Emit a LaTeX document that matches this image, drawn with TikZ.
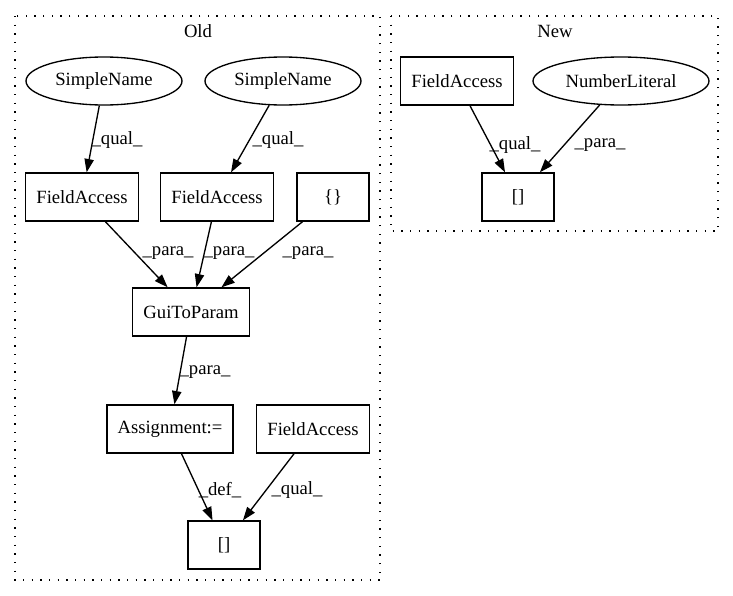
\documentclass[tikz,border=0pt]{standalone}
\usepackage{fontspec}
\setmainfont{Liberation Serif}
\usetikzlibrary{arrows.meta,shapes.geometric}
\begin{document}
\begin{tikzpicture}[x=0.75pt,y=-0.75pt,
  every node/.style={font=\fontsize{14}{16}\selectfont},
  box/.style={draw, line width=1pt, rectangle, minimum height=36pt, minimum width=54pt, inner xsep=8pt, inner ysep=0pt},
  oval/.style={draw, line width=1pt, ellipse, minimum height=36pt, inner sep=0pt},
  edge/.style={line width=1pt, -{Triangle[length=10pt,width=7pt]}},
  lab/.style={inner sep=0pt},
  cluster/.style={draw, line width=1pt, dash pattern=on 1pt off 5.5pt}]
\useasboundingbox (0,0) rectangle (733,596);
% clusters
\draw[cluster] (15,16) rectangle (380,580);
\draw[cluster] (391,16) rectangle (718,231);
\node[lab] (oldt) at (198,31) {Old};
\node[lab] (newt) at (555,31) {New};
% Old nodes
\node[oval, minimum width=117pt] (sn1) at (104,81) {SimpleName};
\node[oval, minimum width=117pt] (sn2) at (283,81) {SimpleName};
\node[box] (fa1) at (82,197) {FieldAccess};
\node[box] (fa2) at (217,197) {FieldAccess};
\node[box] (br) at (333,197) {\{\}};
\node[box] (gui) at (191,312) {GuiToParam};
\node[box] (asg) at (170,429) {Assignment:=};
\node[box] (fa3) at (313,429) {FieldAccess};
\node[box] (idx) at (224,545) {[]};
% New nodes
\node[box] (nfa) at (457,81) {FieldAccess};
\node[oval, minimum width=132pt] (nl) at (621,81) {NumberLiteral};
\node[box] (nidx) at (518,197) {[]};
% Old edges
\draw[edge] (sn1) -- (fa1);
\draw[edge] (sn2) -- (fa2);
\draw[edge] (fa1) -- (gui);
\draw[edge] (fa2) -- (gui);
\draw[edge] (br) -- (gui);
\draw[edge] (gui) -- (asg);
\draw[edge] (asg) -- (idx);
\draw[edge] (fa3) -- (idx);
% New edges
\draw[edge] (nfa) -- (nidx);
\draw[edge] (nl) -- (nidx);
% labels
\node[lab] (l1) at (117,140) {\_qual\_};
\node[lab] (l2) at (278,140) {\_qual\_};
\node[lab] (l3) at (168,253) {\_para\_};
\node[lab] (l4) at (229,253) {\_para\_};
\node[lab] (l5) at (308,253) {\_para\_};
\node[lab] (l6) at (205,372) {\_para\_};
\node[lab] (l7) at (220,490) {\_def\_};
\node[lab] (l8) at (297,490) {\_qual\_};
\node[lab] (l9) at (515,145) {\_qual\_};
\node[lab] (l10) at (600,145) {\_para\_};
\end{tikzpicture}
\end{document}
